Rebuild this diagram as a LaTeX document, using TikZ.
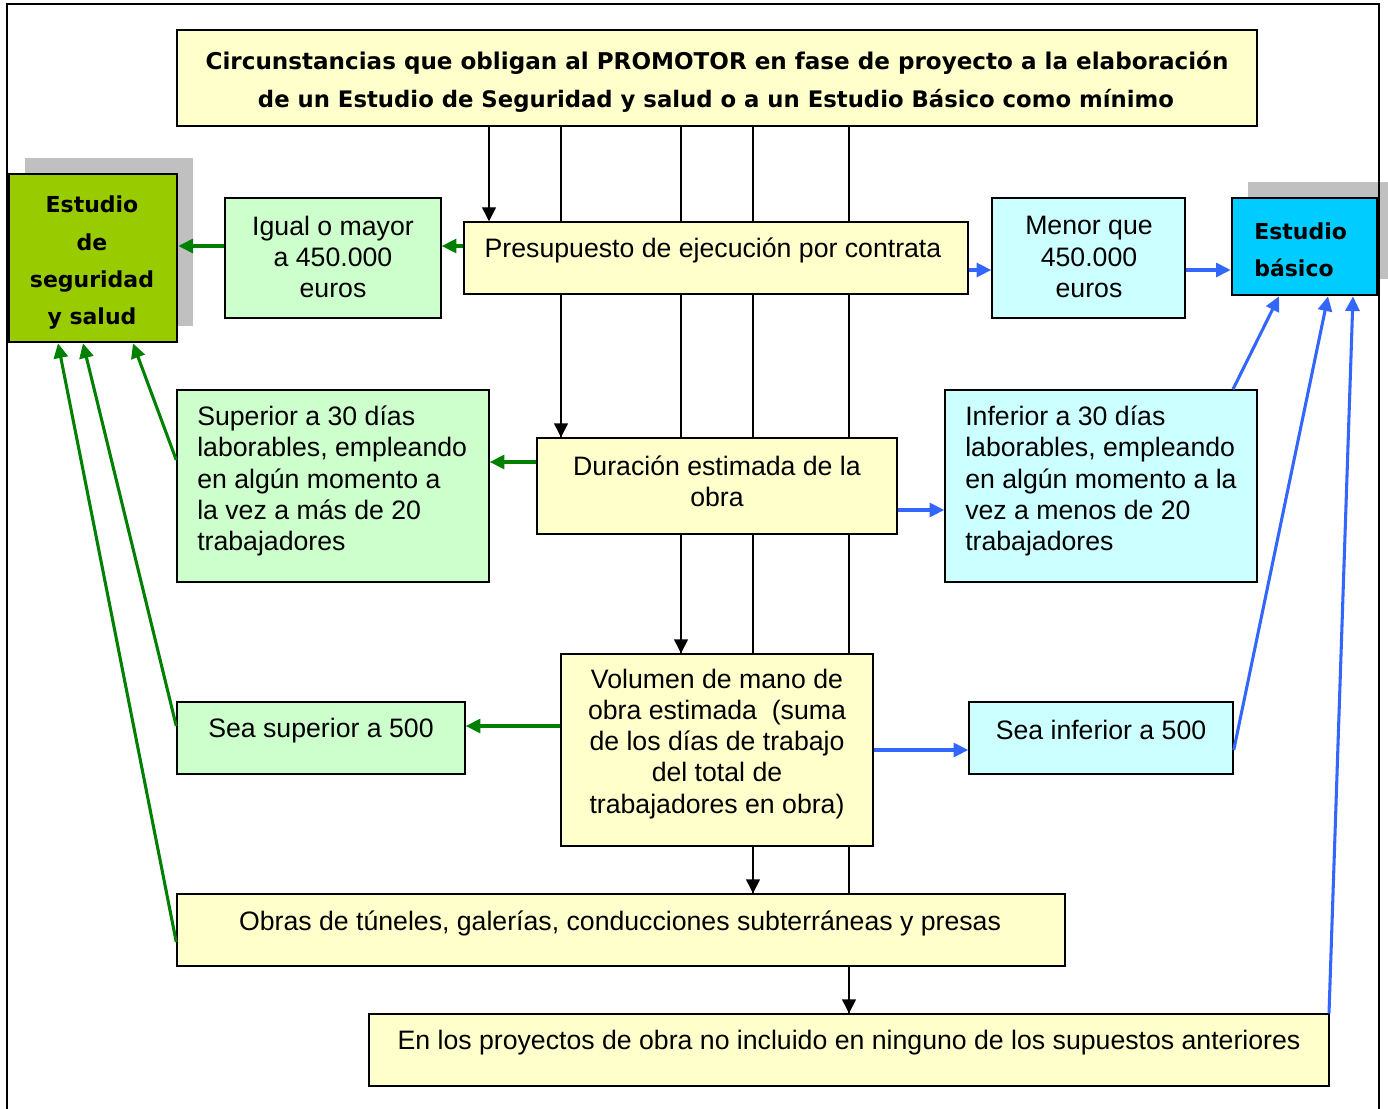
\documentclass[tikz,border=0pt]{standalone}
\usepackage{fontspec}
\setmainfont{Liberation Sans}
\newfontfamily\comicf{DejaVu Sans}
\usetikzlibrary{arrows.meta,fit,calc}
\definecolor{yel}{HTML}{FFFFCC}
\definecolor{grn}{HTML}{CCFFCC}
\definecolor{cyn}{HTML}{CCFFFF}
\definecolor{essg}{HTML}{99CC00}
\definecolor{ebc}{HTML}{00CCFF}
\definecolor{shd}{HTML}{C0C0C0}
\definecolor{dgreen}{HTML}{008000}
\definecolor{lblue}{HTML}{3366FF}
\pgfdeclarelayer{background}
\pgfsetlayers{background,main}
\tikzset{
  x=0.75pt, y=-0.75pt,
  box/.style={draw=black, line width=1.1pt, inner sep=0pt},
  bigbox/.style={draw=black, line width=2pt, inner sep=0pt},
  txt/.style={inner sep=0pt, font=\fontsize{20}{23.3}\selectfont, align=center},
  ltxt/.style={inner sep=0pt, font=\fontsize{20}{23.3}\selectfont, align=left, anchor=west},
  ctxt/.style={inner sep=0pt, font=\comicf\bfseries\fontsize{16.5}{28}\selectfont},
  blk/.style={draw=black, line width=1.1pt, -{Triangle[length=10.5pt,width=10.5pt]}},
  blkline/.style={draw=black, line width=1.1pt},
  garr/.style={draw=dgreen, line width=2.3pt, -{Triangle[length=11pt,width=10.5pt]}},
  barr/.style={draw=lblue, line width=2.3pt, -{Triangle[length=11pt,width=10.5pt]}},
}
\begin{document}
\begin{tikzpicture}
\useasboundingbox (0,0) rectangle (1388,1109);
% outer frame
\draw[line width=1.6pt] (7,1109) -- (7,4) -- (1379,4) -- (1379,1109);

% boxes
\node[box, fill=yel, fit={(177,30)(1257,126)}] (title) {};
\node[bigbox, fill=essg, fit={(9,174)(177,342)}] (ess) {};
\node[box, fill=grn, fit={(225,198)(441,318)}] (igual) {};
\node[box, fill=yel, fit={(464,222)(968,294)}] (pres) {};
\node[box, fill=cyn, fit={(992,198)(1185,318)}] (menor) {};
\node[bigbox, fill=ebc, fit={(1232,198)(1377,295)}] (eb) {};
\node[box, fill=grn, fit={(177,390)(489,582)}] (sup30) {};
\node[box, fill=yel, fit={(537,438)(897,534)}] (dur) {};
\node[box, fill=cyn, fit={(945,390)(1257,582)}] (inf30) {};
\node[box, fill=yel, fit={(561,654)(873,846)}] (vol) {};
\node[box, fill=grn, fit={(177,702)(465,774)}] (sup500) {};
\node[box, fill=cyn, fit={(969,702)(1233,774)}] (inf500) {};
\node[box, fill=yel, fit={(177,894)(1065,966)}] (obras) {};
\node[box, fill=yel, fit={(369,1014)(1329,1086)}] (proy) {};

% shadows and lines behind
\begin{pgfonlayer}{background}
\fill[shd] (25,158) rectangle (193,326);
\fill[shd] (1248,182) rectangle (1393,279);
\draw[blkline] (561,0 |- title.south) -- (561,0 |- pres.north);
\draw[blkline] (681,0 |- title.south) -- (681,0 |- vol.north);
\draw[blkline] (753,0 |- title.south) -- (753,0 |- obras.north);
\draw[blkline] (849,0 |- title.south) -- (849,0 |- proy.north);
\draw[blkline] (561,0 |- pres.south) -- (561,0 |- dur.north);
\end{pgfonlayer}

% texts
\node[inner sep=0pt] (titletxt1) at (717,63) {\resizebox{767pt}{!}{\comicf\bfseries Circunstancias que obligan al PROMOTOR en fase de proyecto a la elaboración}};
\node[inner sep=0pt] (titletxt2) at (716,101) {\resizebox{687pt}{!}{\comicf\bfseries de un Estudio de Seguridad y salud o a un Estudio Básico como mínimo}};
\node[ctxt, align=center] (esst) at (92,263) {Estudio\\de\\seguridad\\y salud};
\node[ctxt, align=left, anchor=west] (ebt) at (1254,250) {Estudio\\básico};
\node[txt] (igualt) at (333,257) {Igual o mayor\\a 450.000\\euros};
\node[txt] (prest) at (713,250) {Presupuesto de ejecución por contrata};
\node[txt] (menort) at (1089,257) {Menor que\\450.000\\euros};
\node[ltxt] (sup30t) at (197,481) {Superior a 30 días\\laborables, empleando\\en algún momento a\\la vez a más de 20\\trabajadores};
\node[txt] (durt) at (717,481) {Duración estimada de la\\obra};
\node[ltxt] (inf30t) at (965,481) {Inferior a 30 días\\laborables, empleando\\en algún momento a la\\vez a menos de 20\\trabajadores};
\node[txt] (volt) at (717,744) {Volumen de mano de\\obra estimada\ \ (suma\\de los días de trabajo\\del total de\\trabajadores en obra)};
\node[txt] (sup500t) at (321,731) {Sea superior a 500};
\node[txt] (inf500t) at (1101,730) {Sea inferior a 500};
\node[txt] (obrast) at (620,923) {Obras de túneles, galerías, conducciones subterráneas y presas};
\node[txt] (proyt) at (849,1043) {En los proyectos de obra no incluido en ninguno de los supuestos anteriores};

% black arrows
\draw[blk] (489,0 |- title.south) -- (489,0 |- pres.north);
\draw[blk] (561,0 |- pres.south) -- (561,0 |- dur.north);
\draw[blk] (681,0 |- dur.south) -- (681,0 |- vol.north);
\draw[blk] (753,0 |- vol.south) -- (753,0 |- obras.north);
\draw[blk] (849,0 |- obras.south) -- (849,0 |- proy.north);

% green arrows
\draw[garr] (pres.west |- 0,246) -- (igual.east |- 0,246);
\draw[garr] (igual.west |- 0,246) -- (ess.east |- 0,246);
\draw[garr] (dur.west |- 0,462) -- (sup30.east |- 0,462);
\draw[garr] (vol.west |- 0,726) -- (sup500.east |- 0,726);
\draw[garr] (sup30.west |- 0,460) -- (133,0 |- ess.south);
\draw[garr] (sup500.west |- 0,726) -- (83,0 |- ess.south);
\draw[garr] (obras.west |- 0,942) -- (58,0 |- ess.south);

% blue arrows
\draw[barr] (pres.east |- 0,270) -- (menor.west |- 0,270);
\draw[barr] (menor.east |- 0,270) -- (eb.west |- 0,270);
\draw[barr] (dur.east |- 0,510) -- (inf30.west |- 0,510);
\draw[barr] (vol.east |- 0,750) -- (inf500.west |- 0,750);
\draw[barr] (1233,0 |- inf30.north) -- (1279,0 |- eb.south);
\draw[barr] (inf500.east |- 0,750) -- (1328,0 |- eb.south);
\draw[barr] (1329,0 |- proy.north) -- (1353,0 |- eb.south);
\end{tikzpicture}
\end{document}
